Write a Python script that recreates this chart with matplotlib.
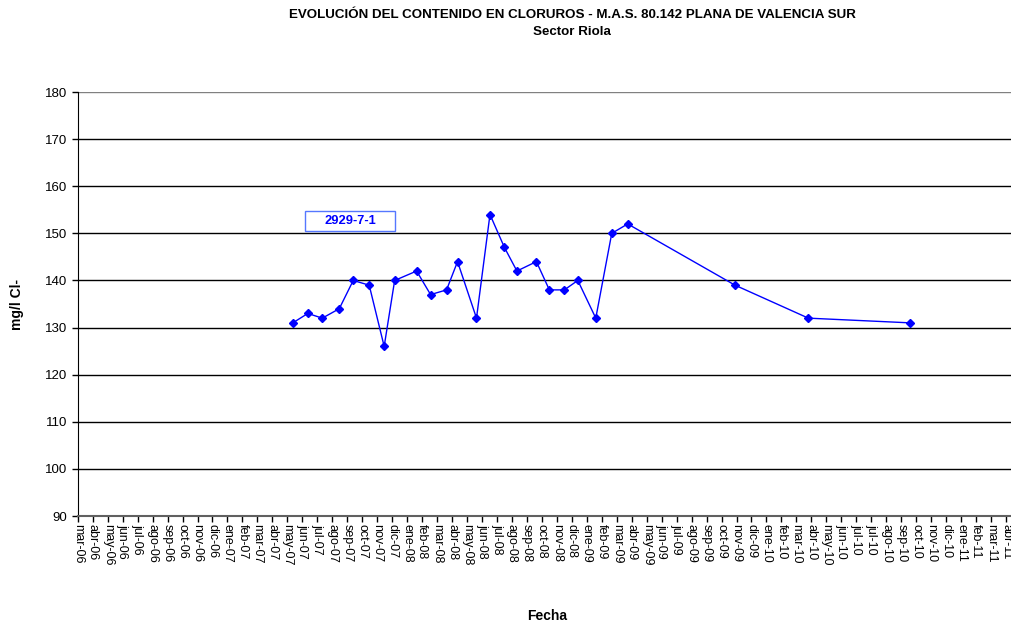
import matplotlib
matplotlib.use("Agg")
import matplotlib.pyplot as plt
import matplotlib.dates as mdates
from matplotlib.patches import Rectangle
from datetime import datetime, timedelta

plt.rcParams['font.family'] = ['Liberation Sans', 'DejaVu Sans']

# muestras del piezometro 2929-7-1
fechas = ["2007-05-29", "2007-06-28", "2007-07-27", "2007-08-30", "2007-09-27",
          "2007-10-29", "2007-11-28", "2007-12-19", "2008-02-01", "2008-02-29",
          "2008-04-01", "2008-04-23", "2008-05-31", "2008-06-27", "2008-07-26",
          "2008-08-20", "2008-09-28", "2008-10-24", "2008-11-23", "2008-12-20",
          "2009-01-25", "2009-02-26", "2009-03-30", "2009-10-31", "2010-03-27",
          "2010-10-17"]
cloruros = [131, 133, 132, 134, 140, 139, 126, 140, 142, 137,
            138, 144, 132, 154, 147, 142, 144, 138, 138, 140,
            132, 150, 152, 139, 132, 131]
serie = "2929-7-1"

meses = ["ene", "feb", "mar", "abr", "may", "jun",
         "jul", "ago", "sep", "oct", "nov", "dic"]
inicio_eje = datetime(2006, 3, 24)
paso_dias = 30
n_ticks = 63
y_ticks = list(range(90, 181, 10))

x = [datetime.strptime(f, "%Y-%m-%d") for f in fechas]
ticks = [inicio_eje + timedelta(days=paso_dias * k) for k in range(n_ticks)]

fig = plt.figure(figsize=(10.11, 6.26), dpi=100)
ax = fig.add_axes([0.0769, 0.1757, 0.9231, 0.6773])

ax.plot(x, cloruros, color='#0000ff', lw=1, marker='D', ms=4.5,
        markeredgecolor='#0000ff', markerfacecolor='#0000ff', zorder=3)

ax.set_ylim(90, 180)
ax.set_yticks(y_ticks)
ax.set_xlim(inicio_eje, inicio_eje + timedelta(days=1870))
ax.set_xticks(ticks)
ax.set_xticklabels([f"{meses[t.month - 1]}-{t.strftime('%y')}" for t in ticks],
                   rotation=270, fontsize=9)
ax.tick_params(axis='y', labelsize=9.5, length=4, width=1, direction='out')
ax.tick_params(axis='x', length=4, width=1, direction='out', pad=2)

for v in y_ticks[1:-1]:
    ax.axhline(v, color='black', lw=1, zorder=1)
ax.axhline(180, color='#808080', lw=1, zorder=1)

for s in ['top', 'right']:
    ax.spines[s].set_visible(False)
ax.spines['left'].set_color('black')
ax.spines['bottom'].set_color('#606060')
ax.spines['bottom'].set_linewidth(1.5)

# cuadro con el nombre de la serie
ax.add_patch(Rectangle((0.2435, 0.6722), 0.0964, 0.0472, transform=ax.transAxes,
                       facecolor='white', edgecolor='#5577ff', lw=1, zorder=4))
ax.text(0.2917, 0.6958, serie, transform=ax.transAxes, color='#0000ff',
        fontsize=9.3, fontweight='bold', ha='center', va='center', zorder=5)

fig.text(0.566, 1 - 15 / 626, "EVOLUCIÓN DEL CONTENIDO EN CLORUROS - M.A.S. 80.142 PLANA DE VALENCIA SUR",
         ha='center', va='center', fontsize=9.6, fontweight='bold')
fig.text(0.566, 1 - 32 / 626, "Sector Riola", ha='center', va='center',
         fontsize=9.6, fontweight='bold')
fig.text(17 / 1011, 1 - 304 / 626, "mg/l Cl-", rotation=90, ha='center', va='center',
         fontsize=10, fontweight='bold')
fig.text(547 / 1011, 1 - 616 / 626, "Fecha", ha='center', va='center',
         fontsize=10, fontweight='bold')

fig.savefig("out.png", dpi=100)
